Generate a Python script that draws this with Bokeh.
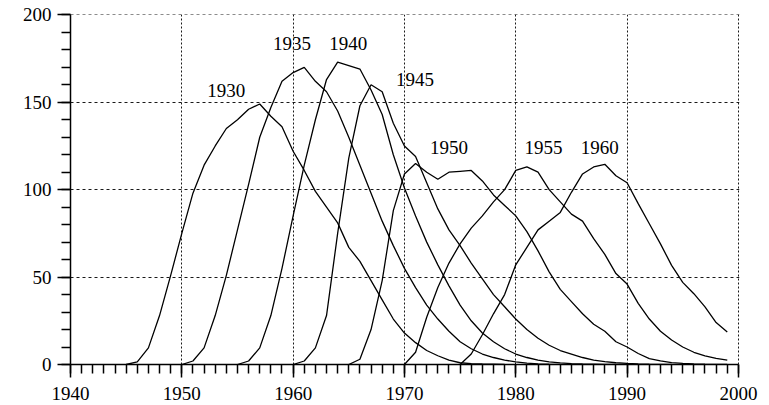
from bokeh.plotting import figure
from bokeh.models import Range1d, FixedTicker, ColumnDataSource
from bokeh.embed import file_html
from bokeh.resources import INLINE
from bokeh.core.properties import value

# ---- data ----
cohorts = ["1930", "1935", "1940", "1945", "1950", "1955", "1960"]
first_years = [1945, 1950, 1955, 1960, 1965, 1970, 1975]

rates_1930 = [0, 1.5, 9.5, 28, 51, 75, 98, 114, 125, 135, 140, 146, 149, 142, 136, 122, 111, 99, 90, 81,
              67, 59, 48, 37, 26, 18, 12.5, 8, 5, 2.5, 1, 0.5, 0.3, 0.2, 0.1]
rates_1935 = [0, 2, 9.5, 28, 51, 77, 103, 130, 147, 162, 167, 170, 162, 156, 145, 130, 114, 98, 82, 68,
              55, 44, 34, 26, 19, 13, 9, 6, 4, 2.5, 1.5, 0.8, 0.4, 0.2, 0.1]
rates_1940 = [0, 2, 9.5, 28, 55, 85, 114, 140, 163, 173, 171, 169, 157, 143, 120, 101, 85, 70, 57, 45,
              34, 25, 18, 13, 9, 6, 4, 2.5, 1.5, 0.9, 0.5, 0.3, 0.2, 0.1, 0.05]
rates_1945 = [0, 2, 9.5, 28, 75, 118, 148, 160, 156, 138, 125, 119, 104, 89, 77, 68, 58, 49, 40, 33,
              26, 20, 15, 11, 8, 6, 4, 2.5, 1.6, 1, 0.6, 0.3, 0.15, 0.08, 0.04]
rates_1950 = [0, 3, 20, 48, 88, 109, 115, 110, 106, 110, 110.5, 111, 105, 97, 91, 85, 76, 65, 53, 43,
              36, 29, 23, 19, 13, 10, 6.3, 3.4, 2.1, 1.1, 0.7, 0.4, 0.2, 0.1, 0.05]
rates_1955 = [0, 7, 27, 44, 58, 69, 78, 85, 93, 100, 111, 113, 110, 100, 93, 86, 82, 72, 63, 52,
              46, 35, 26, 19, 14, 10, 7, 5, 3.5, 2.5]
rates_1960 = [0, 6, 17, 29, 40, 57, 67, 77, 82, 87, 98.5, 109, 113, 114.5, 108, 104, 92, 80.5, 69, 56.7,
              47, 40.5, 33, 24, 18.6]
all_rates = [rates_1930, rates_1935, rates_1940, rates_1945, rates_1950, rates_1955, rates_1960]

label_years = [1954.0, 1959.9, 1964.95, 1970.95, 1974.0, 1982.5, 1987.55]
label_values = [156.8, 183.6, 183.6, 163.3, 124.0, 124.0, 124.0]

x_ticks = [1940, 1950, 1960, 1970, 1980, 1990, 2000]
x_minor = list(range(1940, 2001))
y_ticks = [0, 50, 100, 150, 200]
y_minor = list(range(0, 201, 10))

FONT = "Liberation Serif"

p = figure(width=769, height=405, output_backend="svg", toolbar_location=None,
           x_range=Range1d(1940, 2000.1), y_range=Range1d(0, 200.2),
           min_border_left=70, min_border_right=30, min_border_top=14, min_border_bottom=41)
p.outline_line_color = None
p.background_fill_color = "white"
p.border_fill_color = "white"

for start, rates in zip(first_years, all_rates):
    src = ColumnDataSource(dict(x=[start + i for i in range(len(rates))], y=rates))
    p.line("x", "y", source=src, line_color="black", line_width=1.3)

p.text(x=label_years, y=label_values, text=cohorts, text_font=value(FONT),
       text_font_size="19px", text_align="center", text_baseline="middle", text_color="black")

for ax, ticks, minor in ((p.xaxis[0], x_ticks, x_minor), (p.yaxis[0], y_ticks, y_minor)):
    ax.ticker = FixedTicker(ticks=ticks, minor_ticks=minor)
    ax.bounds = (ticks[0], ticks[-1])
    ax.axis_line_color = "black"
    ax.axis_line_width = 1.5
    ax.major_tick_line_color = "black"
    ax.major_tick_line_width = 1.5
    ax.minor_tick_line_color = "black"
    ax.minor_tick_line_width = 1.5
    ax.major_tick_in = 0
    ax.minor_tick_in = 0
    ax.major_tick_out = 13
    ax.minor_tick_out = 9
    ax.major_label_text_font = FONT
    ax.major_label_text_font_size = "19px"
    ax.major_label_text_color = "black"
p.xaxis[0].major_label_standoff = 9
p.yaxis[0].major_label_standoff = 6

for g, dash in ((p.xgrid[0], "2 2"), (p.ygrid[0], "3 3")):
    g.grid_line_color = "black"
    g.grid_line_width = 1
    g.grid_line_dash = dash
    g.grid_line_alpha = 0.9
p.xgrid[0].ticker = FixedTicker(ticks=x_ticks)
p.ygrid[0].ticker = FixedTicker(ticks=y_ticks)

open("out.html", "w").write(file_html(p, INLINE))
